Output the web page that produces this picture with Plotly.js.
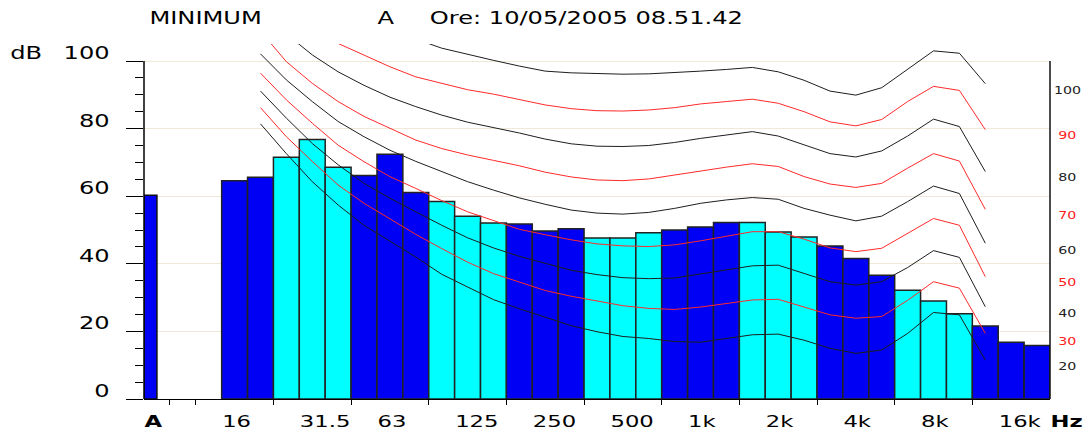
<!DOCTYPE html>
<html><head><meta charset="utf-8">
<script src="https://cdn.plot.ly/plotly-3.0.1.min.js"></script>
<style>html,body{margin:0;padding:0;background:#fff;}#chart{width:1091px;height:435px;}</style>
</head><body><div id="chart"></div>
<script>
// ---- data ----
const slots = ['A','','12.5','16','20','25','31.5','40','50','63','80','100','125','160','200','250','315','400','500','630','800','1k','1.25k','1.6k','2k','2.5k','3.15k','4k','5k','6.3k','8k','10k','12.5k','16k','20k'];
const totalBand = 'A';
const totalLevel = 60.3;
const bands = ['16','20','25','31.5','40','50','63','80','100','125','160','200','250','315','400','500','630','800','1k','1.25k','1.6k','2k','2.5k','3.15k','4k','5k','6.3k','8k','10k','12.5k','16k','20k'];
const levels = [64.6,65.6,71.5,76.8,68.6,66.1,72.4,61.1,58.4,54.1,52.1,51.8,49.7,50.4,47.6,47.6,49.2,50.0,50.9,52.2,52.2,49.4,47.9,45.3,41.6,36.6,32.2,29.0,25.2,21.6,16.8,15.8];

const curveBands = ['20','25','31.5','40','50','63','80','100','125','160','200','250','315','400','500','630','800','1k','1.25k','1.6k','2k','2.5k','3.15k','4k','5k','6.3k','8k','10k','12.5k'];
const phon100 = [129.8,124.8,119.8,115.9,111.9,108.9,106.5,103.8,101.9,100.2,98.5,97.0,96.5,96.2,96.1,96.2,96.5,97.0,97.5,98.1,96.8,94.3,91.1,89.9,92.1,97.5,103.0,102.3,93.3];
const phon90  = [122,116,110,105.2,101.8,98.3,95.3,93.3,91.5,90.2,88.7,87.0,85.9,85.3,85.2,85.5,86.2,87.3,88.0,88.7,87.5,85.0,82.0,80.8,82.7,88.0,92.5,91.3,79.7];
const phon80  = [115,108,101.8,96.8,92.8,89.3,86.5,84.0,81.9,80.4,78.7,76.9,75.5,74.8,74.7,75.0,75.9,77.1,78.1,79.1,77.8,75.1,72.6,71.6,73.4,77.8,82.8,80.6,67.3];
const phon70  = [108.8,99.8,93.4,88.0,83.6,80.1,76.6,74.1,72.2,70.6,69.0,67.1,65.7,64.8,64.6,65.1,66.3,67.6,68.6,69.6,68.8,65.8,63.6,62.6,63.8,68.3,72.6,70.4,56.1];
const phon60  = [102.1,94.4,88.0,82.1,77.6,73.6,70.3,67.3,64.3,61.8,59.5,57.6,55.9,55.0,54.7,55.2,56.4,57.9,58.9,59.6,59.1,56.4,54.4,52.7,54.1,58.4,63.0,60.8,46.1];
const phon50  = [96.4,88.5,81.6,75.1,70.2,65.8,62.3,58.7,55.4,52.7,50.2,48.6,47.1,45.9,45.3,45.1,45.6,46.8,48.1,49.5,49.5,47.3,44.7,43.6,44.6,49.1,53.4,51.4,36.2];
const phon40  = [91.1,83.1,75.6,69.3,63.8,59.4,55.4,51.4,47.7,44.7,42.2,40.1,38.1,36.8,35.9,35.6,35.8,37.0,38.3,39.4,39.6,37.2,34.7,33.7,34.7,38.9,43.9,41.9,27.3];
const phon30  = [86.2,77.6,70.3,63.3,57.9,53.4,48.7,44.5,40.5,37.1,34.6,32.1,30.4,28.9,27.6,26.8,26.5,27.2,28.3,29.3,29.5,27.3,24.9,23.9,24.4,29.2,34.7,32.8,19.4];
const phon20  = [81.4,72.6,64.3,57.4,51.4,46.8,42.0,36.9,33.1,29.4,26.7,24.2,21.7,19.9,18.5,17.9,17.0,16.8,17.9,19.0,19.2,17.4,15.0,13.5,14.5,19.4,25.6,24.9,11.5];

const xLabels = ['A','16','31.5','63','125','250','500','1k','2k','4k','8k','16k','Hz'];
const groupStarts = ['','12.5','25','50','100','200','400','800','1.6k','3.15k','6.3k','12.5k'];
const yTicks = [0,20,40,60,80,100];
const rightLabels = ['100','90','80','70','60','50','40','30','20'];
const rightLabelDb = [91.3,77.9,65.5,54.3,43.9,34.4,25.4,16.9,9.6];
const titleMode = 'MINIMUM';
const titleWeight = 'A';
const titleTime = 'Ore: 10/05/2005 08.51.42';
const yUnit = 'dB';

// ---- build ----
const BLUE = '#0000f5', CYAN = '#00ffff', RED = '#ff2a2a', DARK = '#1e1e1e';
const xi = n => slots.indexOf(n);
const phonCurves = [[100,phon100],[90,phon90],[80,phon80],[70,phon70],[60,phon60],[50,phon50],[40,phon40],[30,phon30],[20,phon20]];
const phonColor = p => ((p/10) % 2 === 1) ? RED : DARK;

const traces = [];
traces.push({type:'bar', x:[xi(totalBand)], y:[totalLevel], width:[0.5], offset:-0.5,
  marker:{color:BLUE, line:{color:'#111', width:1.5}}, hoverinfo:'skip'});
traces.push({type:'bar', x:bands.map(xi), y:levels, width:bands.map(()=>1),
  marker:{color:bands.map((b,i)=>(Math.floor((i+1)/3)%2 ? CYAN : BLUE)), line:{color:'#222', width:1.5}}, hoverinfo:'skip'});
phonCurves.forEach(([p, vals]) => {
  traces.push({type:'scatter', mode:'lines', x:curveBands.map(xi), y:vals,
    line:{color:phonColor(p), width:1}, hoverinfo:'skip'});
});

const N = slots.length;
const labelTickVals = xLabels.map(n => n === 'Hz' ? N - 0.5 : xi(n) - 0.5);
const labelTickText = xLabels.map(n => (n === 'A' || n === 'Hz') ? '<b>'+n+'</b>' : n);
const boundaryTicks = groupStarts.map(n => xi(n) - 0.5);
const minorY = [];
for (let v = 5; v < 100; v += 5) if (v % 20) minorY.push(v);

const annotations = [
  {text:titleMode, x:0.0684, y:1.0732},
  {text:titleWeight, x:0.2666, y:1.0732},
  {text:titleTime, x:0.4879, y:1.0732},
].map(a => Object.assign(a, {xref:'paper', yref:'paper', xanchor:'center', yanchor:'middle', showarrow:false, font:{size:17, color:'#000'}}));
annotations.push({text:yUnit, xref:'paper', yref:'paper', x:-0.1302, y:0.976, xanchor:'center', yanchor:'middle', showarrow:false, font:{size:17, color:'#000'}});
rightLabels.forEach((t, i) => {
  annotations.push({text:t, xref:'paper', yref:'y', x:1.0188, y:rightLabelDb[i], xanchor:'center', yanchor:'middle', showarrow:false,
    font:{size:10, color: phonColor(+t) === RED ? '#ff2020' : '#222'}});
});

const layout = {
  width:1091, height:435,
  margin:{l:144, r:41, t:44, b:36, pad:0},
  paper_bgcolor:'#fff', plot_bgcolor:'#fff',
  showlegend:false, barmode:'overlay', bargap:0,
  font:{family:'DejaVu Sans, sans-serif', color:'#000'},
  xaxis:{range:[-0.5, N-0.5], tickmode:'array', tickvals:labelTickVals, ticktext:labelTickText,
    ticks:'', ticklabelposition:'outside right', ticklabelstandoff:8, tickfont:{size:16, color:'#000'},
    showgrid:false, zeroline:false, showline:true, linecolor:'#000', linewidth:1,
    minor:{tickmode:'array', tickvals:boundaryTicks, ticks:'outside', ticklen:5, tickcolor:'#000', tickwidth:1, showgrid:false}},
  yaxis:{range:[0,105.03], tickmode:'array', tickvals:yTicks, ticks:'outside', ticklen:17, tickcolor:'#000', tickwidth:1,
    tickfont:{size:17, color:'#000'}, ticklabelstandoff:13, ticklabelshift:-8,
    showgrid:true, gridcolor:'#efe9d8', gridwidth:1, zeroline:false, showline:false,
    minor:{tickmode:'array', tickvals:minorY, ticks:'outside', ticklen:8, tickcolor:'#000', tickwidth:1, showgrid:false}},
  shapes:[
    {type:'line', xref:'paper', yref:'y', x0:0, x1:0, y0:yTicks[0], y1:yTicks[yTicks.length-1], line:{color:'#000', width:1.5}},
    {type:'line', xref:'paper', yref:'y', x0:1, x1:1, y0:yTicks[0], y1:yTicks[yTicks.length-1], line:{color:'#111', width:1.5}}
  ],
  annotations
};

function stretchText(gd, s) {
  gd.querySelectorAll('svg text').forEach(t => {
    let bb;
    try { bb = t.getBBox(); } catch (e) { return; }
    if (!bb || !bb.width) return;
    const anchor = t.getAttribute('text-anchor') || 'start';
    const ax = anchor === 'end' ? bb.x + bb.width : anchor === 'middle' ? bb.x + bb.width / 2 : bb.x;
    const prev = t.getAttribute('transform') || '';
    t.setAttribute('transform', (prev + ' translate(' + ax + ',0) scale(' + s + ',1) translate(' + (-ax) + ',0)').trim());
  });
}

Plotly.newPlot('chart', traces, layout, {staticPlot:true, displayModeBar:false}).then(gd => {
  try { stretchText(gd, 1.42); } catch (e) {}
});
</script>
</body></html>
